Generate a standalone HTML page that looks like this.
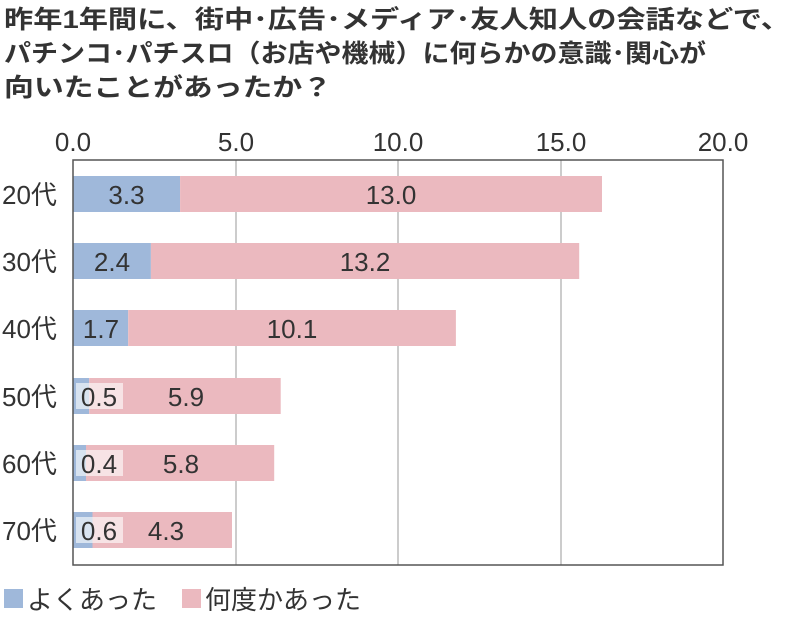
<!DOCTYPE html><html><head><meta charset="utf-8"><style>
body{margin:0;width:800px;height:615px;background:#fff;overflow:hidden}
svg text{font-family:"Liberation Sans","Noto Sans CJK JP",sans-serif;fill:#333}
</style></head><body>
<svg width="800" height="615" xmlns="http://www.w3.org/2000/svg">
<g font-size="25" font-weight="bold"><text x="4" y="28" textLength="786" lengthAdjust="spacingAndGlyphs">昨年1年間に、街中･広告･メディア･友人知人の会話などで、</text>
<text x="4" y="62" textLength="702" lengthAdjust="spacingAndGlyphs">パチンコ･パチスロ（お店や機械）に何らかの意識･関心が</text>
<text x="4" y="96" textLength="328" lengthAdjust="spacingAndGlyphs">向いたことがあったか？</text></g>
<g font-size="26" text-anchor="middle"><text x="73" y="151">0.0</text><text x="236" y="151">5.0</text><text x="398" y="151">10.0</text><text x="561" y="151">15.0</text><text x="723" y="151">20.0</text></g>
<g stroke="#999" stroke-width="1"><line x1="236" y1="160" x2="236" y2="565"/><line x1="398" y1="160" x2="398" y2="565"/><line x1="561" y1="160" x2="561" y2="565"/></g>
<g>
<rect x="73" y="176" width="107.1" height="36" fill="#9fb8da"/><rect x="180.1" y="176" width="421.9" height="36" fill="#ebb9bf"/>
<rect x="73" y="243" width="77.9" height="36" fill="#9fb8da"/><rect x="150.9" y="243" width="428.3" height="36" fill="#ebb9bf"/>
<rect x="73" y="310" width="55.2" height="36" fill="#9fb8da"/><rect x="128.2" y="310" width="327.7" height="36" fill="#ebb9bf"/>
<rect x="73" y="378" width="16.2" height="36" fill="#9fb8da"/><rect x="89.2" y="378" width="191.5" height="36" fill="#ebb9bf"/>
<rect x="73" y="445" width="13" height="36" fill="#9fb8da"/><rect x="86" y="445" width="188.2" height="36" fill="#ebb9bf"/>
<rect x="73" y="512" width="19.5" height="36" fill="#9fb8da"/><rect x="92.5" y="512" width="139.5" height="36" fill="#ebb9bf"/>
<rect x="76" y="383" width="47" height="26" fill="#fff" opacity="0.6"/>
<rect x="76" y="450" width="47" height="26" fill="#fff" opacity="0.6"/>
<rect x="76" y="517" width="47" height="26" fill="#fff" opacity="0.6"/>
</g>
<rect x="73" y="160" width="650" height="405" fill="none" stroke="#555" stroke-width="1.5"/>
<g font-size="26">
<text x="2" y="204">20代</text><text x="2" y="271">30代</text><text x="2" y="338">40代</text><text x="2" y="406">50代</text><text x="2" y="473">60代</text><text x="2" y="540">70代</text>
</g>
<g font-size="26" text-anchor="middle">
<text x="126.5" y="204">3.3</text><text x="391" y="204">13.0</text>
<text x="112" y="271">2.4</text><text x="365" y="271">13.2</text>
<text x="101" y="338">1.7</text><text x="292" y="338">10.1</text>
<text x="99" y="406">0.5</text><text x="186" y="406">5.9</text>
<text x="99" y="473">0.4</text><text x="181" y="473">5.8</text>
<text x="99" y="540">0.6</text><text x="166" y="540">4.3</text>
</g>
<rect x="4" y="589" width="19" height="19" fill="#9fb8da"/><text x="27" y="609" font-size="26">よくあった</text>
<rect x="182" y="589" width="19" height="19" fill="#ebb9bf"/><text x="205" y="609" font-size="26">何度かあった</text>
</svg></body></html>
